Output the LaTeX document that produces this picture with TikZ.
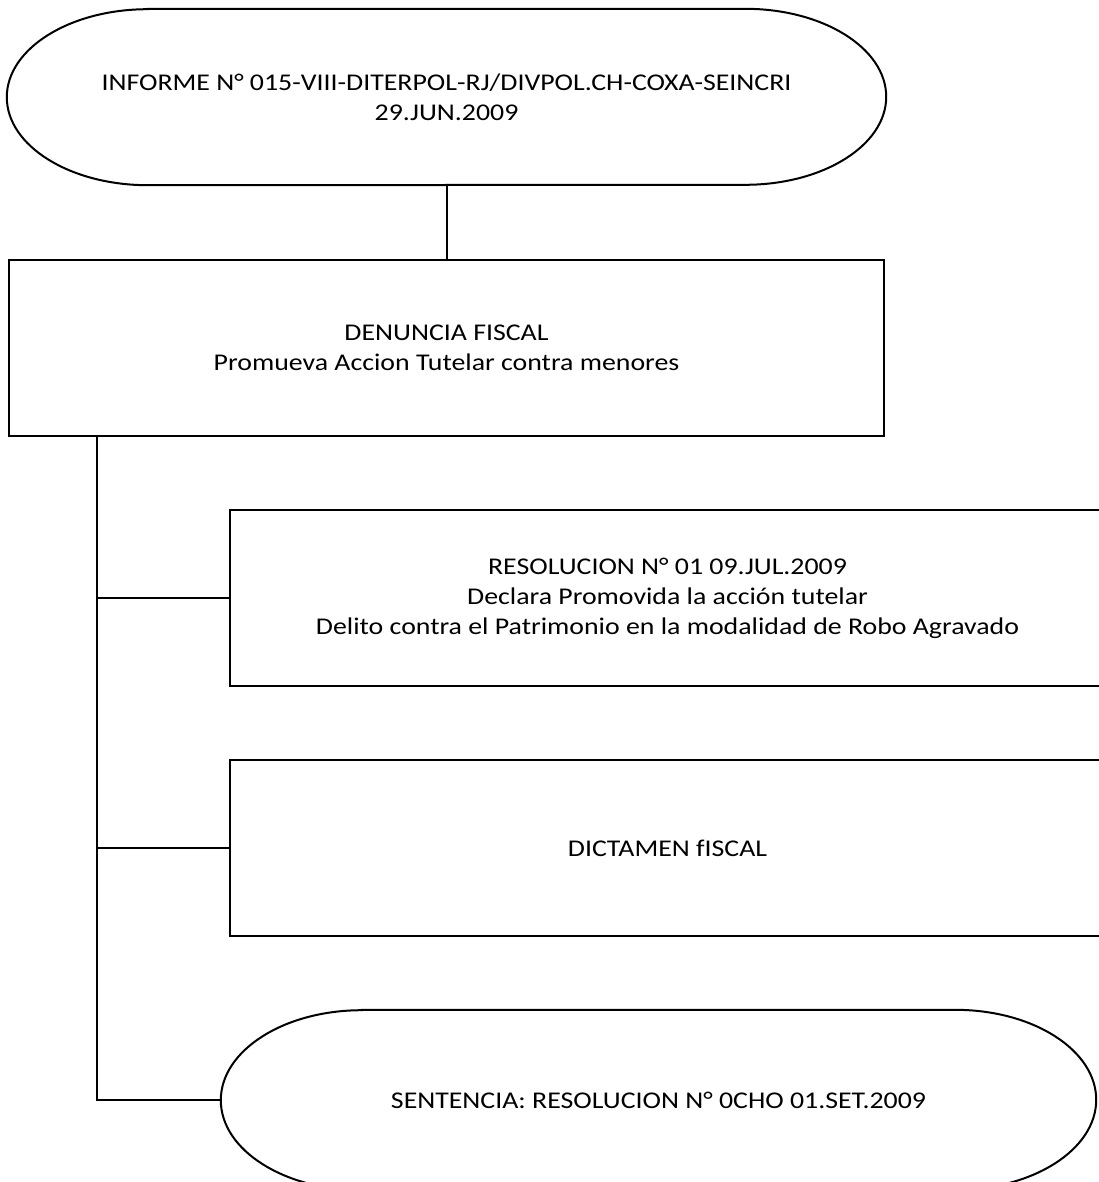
\documentclass[tikz,border=0pt]{standalone}
\usepackage{fontspec}
\setmainfont{Carlito}[FakeStretch=1.16]
\begin{document}
\begin{tikzpicture}[x=1pt,y=1pt,
  line/.style={draw=black,line width=2pt},
  box/.style={line,rectangle,minimum width=875pt,minimum height=176pt,align=center,inner sep=0pt},
  term/.style={rectangle,minimum width=879pt,minimum height=176pt,align=center,inner sep=0pt},
  txt/.style={font=\fontsize{24}{30}\selectfont}]
\clip (0,0) rectangle (1099,-1182);
\fill[white] (0,0) rectangle (1099,-1182);
\newcommand\drawterm[3]{%
  \draw[line] ([xshift=#2pt]#1.north west) -- ([xshift=-#2pt]#1.north east)
    arc[start angle=90,end angle=-90,x radius=#2,y radius=#3]
    -- ([xshift=#2pt]#1.south west)
    arc[start angle=270,end angle=90,x radius=#2,y radius=#3] -- cycle;}
\node[term,txt] (inf) at (446.5,-97) {INFORME N° 015-VIII-DITERPOL-RJ/DIVPOL.CH-COXA-SEINCRI\\29.JUN.2009};
\drawterm{inf}{141}{88}
\node[box,txt] (den) at (446.5,-347.5) {DENUNCIA FISCAL\\Promueva Accion Tutelar contra menores};
\node[box,txt] (res) at (667.5,-598) {RESOLUCION N° 01 09.JUL.2009\\Declara Promovida la acción tutelar\\Delito contra el Patrimonio en la modalidad de Robo Agravado};
\node[box,txt] (dic) at (667.5,-848) {DICTAMEN fISCAL};
\node[term,txt,minimum width=875pt,minimum height=180pt] (sen) at (658.5,-1100) {SENTENCIA: RESOLUCION N° 0CHO 01.SET.2009};
\drawterm{sen}{141}{90}
\draw[line] (inf.south) -- (den.north);
\coordinate (trunk) at ([xshift=89pt]den.south west);
\draw[line] (trunk) |- (sen.west);
\draw[line] (trunk) |- (res.west);
\draw[line] (trunk) |- (dic.west);
\end{tikzpicture}
\end{document}
